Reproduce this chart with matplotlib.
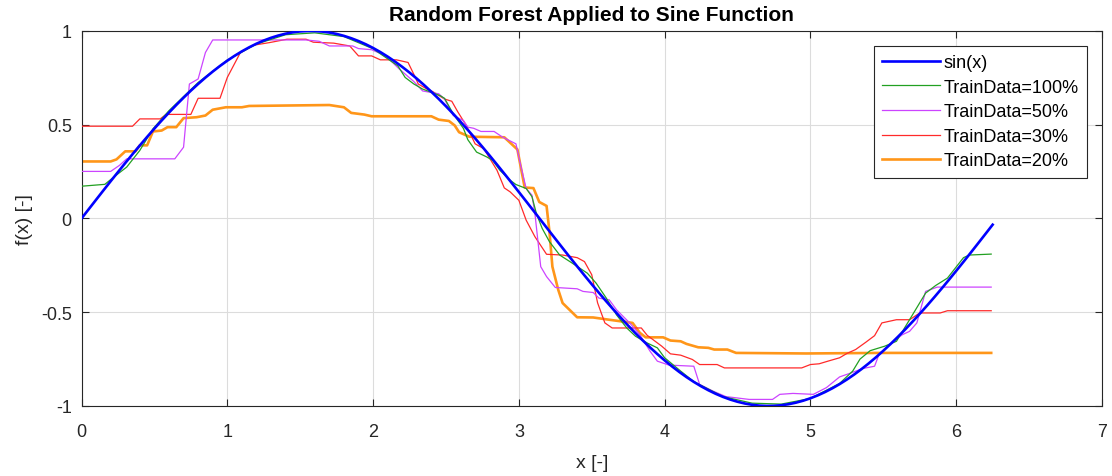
import numpy as np
import matplotlib.pyplot as plt

plt.rcParams["font.family"] = ["Liberation Sans", "DejaVu Sans"]
plt.rcParams["axes.unicode_minus"] = False

# sample points of the true function
x_sin = np.arange(0, 6.2501, 0.05)

# Random forest predictions
x_100 = [0.0, 0.16, 0.22, 0.31, 0.40, 0.49, 0.60, 0.80, 1.00, 1.20, 1.40, 1.60, 1.80, 2.00,
         2.17, 2.22, 2.28, 2.34, 2.40, 2.46, 2.49, 2.55, 2.62, 2.65, 2.71, 2.78, 2.82, 2.87,
         2.94, 2.98, 3.05, 3.09, 3.12, 3.16, 3.21, 3.28, 3.35, 3.47, 3.53, 3.60, 3.67, 3.74,
         3.80, 3.88, 3.95, 4.00, 4.11, 4.20, 4.40, 4.60, 4.80, 5.00, 5.20, 5.29, 5.34, 5.41,
         5.51, 5.59, 5.68, 5.79, 5.86, 5.94, 6.05, 6.09, 6.24]
y_100 = [0.172, 0.182, 0.22, 0.274, 0.363, 0.478, 0.575, 0.725, 0.845, 0.93, 0.98, 0.99, 0.97, 0.905,
         0.814, 0.752, 0.717, 0.69, 0.673, 0.655, 0.641, 0.558, 0.48, 0.42, 0.354, 0.328, 0.31, 0.257,
         0.204, 0.181, 0.16, 0.116, 0.027, -0.053, -0.124, -0.195, -0.23, -0.292, -0.345, -0.425, -0.514, -0.584,
         -0.628, -0.664, -0.69, -0.743, -0.814, -0.87, -0.95, -0.985, -0.99, -0.96, -0.88, -0.814, -0.75, -0.705,
         -0.681, -0.655, -0.54, -0.398, -0.357, -0.318, -0.209, -0.195, -0.19]

x_50 = [0.0, 0.20, 0.26, 0.31, 0.64, 0.70, 0.74, 0.80, 0.85, 0.90, 1.54, 1.63, 1.70, 1.86, 1.90,
        1.99, 2.05, 2.11, 2.18, 2.28, 2.34, 2.39, 2.45, 2.49, 2.55, 2.62, 2.65, 2.69, 2.74, 2.83,
        2.89, 2.98, 3.01, 3.05, 3.09, 3.11, 3.15, 3.19, 3.25, 3.40, 3.44, 3.51, 3.55, 3.62, 3.67,
        3.76, 3.83, 3.90, 3.95, 4.03, 4.20, 4.24, 4.33, 4.42, 4.58, 4.74, 4.79, 4.88, 5.02, 5.11,
        5.20, 5.27, 5.36, 5.44, 5.47, 5.57, 5.63, 5.68, 5.73, 5.79, 5.87, 6.24]
y_50 = [0.251, 0.251, 0.283, 0.318, 0.318, 0.38, 0.717, 0.744, 0.885, 0.952, 0.952, 0.945, 0.92, 0.92, 0.906,
        0.90, 0.88, 0.85, 0.797, 0.73, 0.68, 0.673, 0.665, 0.637, 0.549, 0.522, 0.487, 0.481, 0.464, 0.464,
        0.433, 0.398, 0.292, 0.16, 0.124, 0.027, -0.257, -0.31, -0.368, -0.375, -0.389, -0.395, -0.425, -0.434, -0.487,
        -0.557, -0.62, -0.708, -0.761, -0.782, -0.788, -0.885, -0.92, -0.95, -0.965, -0.965, -0.938, -0.933, -0.938, -0.902,
        -0.845, -0.826, -0.80, -0.788, -0.726, -0.655, -0.62, -0.602, -0.557, -0.389, -0.366, -0.366]

x_30 = [0.0, 0.35, 0.40, 0.54, 0.58, 0.75, 0.80, 0.95, 1.00, 1.09, 1.18, 1.29, 1.41, 1.54, 1.59,
        1.73, 1.84, 1.90, 1.99, 2.05, 2.16, 2.24, 2.29, 2.31, 2.37, 2.41, 2.49, 2.54, 2.58, 2.64,
        2.70, 2.76, 2.85, 2.90, 2.94, 3.00, 3.05, 3.11, 3.19, 3.30, 3.40, 3.45, 3.50, 3.54, 3.59,
        3.64, 3.84, 3.88, 3.98, 4.04, 4.11, 4.19, 4.24, 4.36, 4.41, 4.94, 5.00, 5.06, 5.12, 5.20,
        5.25, 5.31, 5.38, 5.44, 5.49, 5.59, 5.68, 5.75, 5.89, 5.94, 6.24]
y_30 = [0.492, 0.492, 0.531, 0.531, 0.555, 0.555, 0.641, 0.641, 0.752, 0.885, 0.924, 0.938, 0.956, 0.956, 0.94,
        0.935, 0.92, 0.867, 0.867, 0.846, 0.846, 0.832, 0.752, 0.717, 0.69, 0.676, 0.637, 0.625, 0.57, 0.495,
        0.398, 0.372, 0.257, 0.163, 0.142, 0.097, -0.009, -0.097, -0.191, -0.195, -0.209, -0.23, -0.30, -0.45, -0.557,
        -0.584, -0.584, -0.623, -0.681, -0.722, -0.729, -0.752, -0.779, -0.779, -0.797, -0.797, -0.779, -0.775, -0.761, -0.743,
        -0.72, -0.699, -0.66, -0.625, -0.557, -0.54, -0.54, -0.504, -0.504, -0.492, -0.492]

x_20 = [0.0, 0.20, 0.24, 0.30, 0.37, 0.40, 0.45, 0.49, 0.55, 0.59, 0.65, 0.70, 0.79, 0.85, 0.90,
        0.99, 1.10, 1.15, 1.70, 1.80, 1.85, 1.94, 1.99, 2.40, 2.45, 2.52, 2.56, 2.59, 2.66, 2.90,
        2.99, 3.04, 3.10, 3.14, 3.19, 3.21, 3.23, 3.27, 3.30, 3.40, 3.51, 3.60, 3.78, 3.83, 3.87,
        3.99, 4.04, 4.11, 4.15, 4.23, 4.30, 4.34, 4.43, 4.49, 4.97, 5.48, 6.24]
y_20 = [0.304, 0.304, 0.315, 0.358, 0.358, 0.39, 0.39, 0.464, 0.469, 0.487, 0.487, 0.535, 0.540, 0.549, 0.58,
        0.593, 0.593, 0.60, 0.605, 0.593, 0.563, 0.554, 0.545, 0.545, 0.527, 0.52, 0.496, 0.46, 0.436, 0.433,
        0.368, 0.165, 0.162, 0.088, 0.067, -0.071, -0.257, -0.38, -0.451, -0.527, -0.528, -0.538, -0.557, -0.61, -0.634,
        -0.634, -0.651, -0.655, -0.669, -0.687, -0.69, -0.699, -0.699, -0.717, -0.72, -0.717, -0.717]


def main():
    fig = plt.figure(figsize=(11.12, 4.77), dpi=100)
    ax = fig.add_axes([0.0733, 0.1468, 0.9177, 0.7862])

    ax.plot(x_sin, np.sin(x_sin), color="#0000ff", lw=1.9, label="sin(x)", zorder=6)
    ax.plot(x_100, y_100, color="#22a022", lw=0.9, label="TrainData=100%", zorder=5)
    ax.plot(x_50, y_50, color="#cc44ff", lw=0.9, label="TrainData=50%", zorder=4)
    ax.plot(x_30, y_30, color="#ff2a2a", lw=0.9, label="TrainData=30%", zorder=3)
    ax.plot(x_20, y_20, color="#ff9619", lw=1.9, label="TrainData=20%", zorder=2)

    ax.set_xlim(0, 7)
    ax.set_ylim(-1, 1)
    ax.set_xticks(range(8))
    ax.set_yticks([-1, -0.5, 0, 0.5, 1])
    ax.set_yticklabels(["-1", "-0.5", "0", "0.5", "1"])
    ax.grid(True, color="#dcdcdc", lw=0.8)
    ax.set_axisbelow(True)
    ax.tick_params(direction="in", top=True, right=True, labelsize=13, colors="#262626", length=5, width=0.8)
    ax.tick_params(axis="x", pad=12)
    ax.tick_params(axis="y", pad=7)
    for s in ax.spines.values():
        s.set_color("#262626")
        s.set_linewidth(0.8)

    ax.set_xlabel("x [-]", fontsize=14, color="#262626", labelpad=10)
    ax.set_ylabel("f(x) [-]", fontsize=14, color="#262626", labelpad=6)
    ax.set_title("Random Forest Applied to Sine Function", fontsize=15, fontweight="bold", pad=8)

    leg = ax.legend(loc="upper right", bbox_to_anchor=(0.985, 0.96), fontsize=13, frameon=True,
                    fancybox=False, edgecolor="#262626", framealpha=1, handlelength=3.2,
                    handletextpad=0.2, labelspacing=0.42, borderpad=0.45, borderaxespad=0)
    leg.get_frame().set_linewidth(0.8)

    fig.savefig("out.png", dpi=100)


if __name__ == "__main__":
    main()
